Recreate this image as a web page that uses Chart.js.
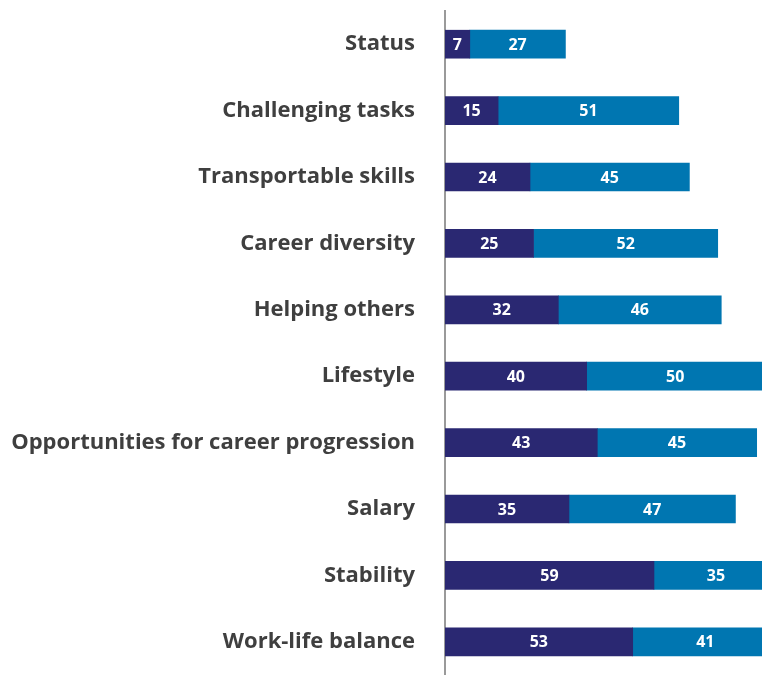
<!DOCTYPE html>
<html>
<head>
<meta charset="utf-8">
<script src="https://cdn.jsdelivr.net/npm/chart.js@4.4.1/dist/chart.umd.min.js"></script>
<style>
  html, body { margin: 0; padding: 0; background: #fff; }
  #wrap { width: 762px; height: 675px; position: relative; }
</style>
</head>
<body>
<div id="wrap"><canvas id="bars"></canvas></div>
<script>
// reasons for choosing a career, two stacked groups per reason
const categories = [
  "Status",
  "Challenging tasks",
  "Transportable skills",
  "Career diversity",
  "Helping others",
  "Lifestyle",
  "Opportunities for career progression",
  "Salary",
  "Stability",
  "Work-life balance"
];
const darkValues  = [7, 15, 24, 25, 32, 40, 43, 35, 59, 53];
const lightValues = [27, 51, 45, 52, 46, 50, 45, 47, 35, 41];

const NAVY = "#2a2872";
const BLUE = "#0076b1";
const LABEL_FONT = "'Open Sans', sans-serif";

// white value labels in the middle of every segment
const segmentLabels = {
  id: "segmentLabels",
  afterDatasetsDraw(chart) {
    const ctx = chart.ctx;
    ctx.save();
    ctx.fillStyle = "#ffffff";
    ctx.font = "bold 16px " + LABEL_FONT;
    ctx.textAlign = "center";
    ctx.textBaseline = "middle";
    chart.data.datasets.forEach((ds, i) => {
      chart.getDatasetMeta(i).data.forEach((bar, j) => {
        const cx = (bar.base + bar.x) / 2;
        ctx.fillText(String(ds.data[j]), cx, bar.y + 1);
      });
    });
    ctx.restore();
  }
};

new Chart(document.getElementById("bars"), {
  type: "bar",
  data: {
    labels: categories,
    datasets: [
      { label: "A", data: darkValues,  backgroundColor: NAVY, barThickness: 28 },
      { label: "B", data: lightValues, backgroundColor: BLUE, barThickness: 28 }
    ]
  },
  options: {
    indexAxis: "y",
    responsive: true,
    maintainAspectRatio: false,
    animation: false,
    layout: { padding: { top: 11, bottom: -3, left: 0, right: 0 } },
    plugins: {
      legend: { display: false },
      tooltip: { enabled: false }
    },
    scales: {
      x: {
        stacked: true,
        display: false,
        min: 0,
        max: 89.5
      },
      y: {
        stacked: true,
        afterFit: scale => {
          scale.width = 445;
          // the axis runs past the bottom edge; no extra room for labels
          scale.paddingTop = 0;
          scale.paddingBottom = -3;
        },
        grid: { display: false, drawTicks: false },
        border: { display: true, color: "#9a9a9a", width: 2 },
        ticks: {
          padding: 30,
          color: "#3f3f3f",
          font: { family: LABEL_FONT, size: 22, weight: "bold" }
        }
      }
    }
  },
  plugins: [segmentLabels]
});
</script>
</body>
</html>
